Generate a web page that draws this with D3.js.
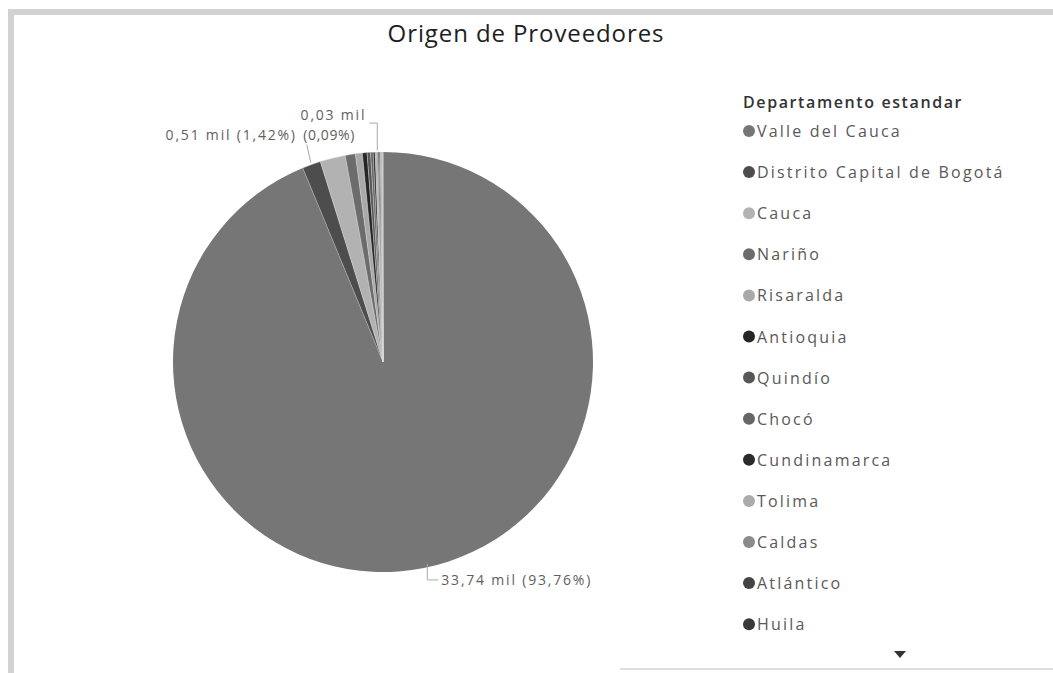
<!DOCTYPE html>
<html>
<head>
<meta charset="utf-8">
<script src="https://cdn.jsdelivr.net/npm/d3@7"></script>
<style>
  html, body { margin: 0; padding: 0; background: #fff; }
  svg { display: block; }
  text { font-family: "Open Sans", "Noto Sans", sans-serif; }
</style>
</head>
<body>
<svg id="chart" width="1053" height="673"></svg>
<script>
// ---- data (counts of providers) ----
const categories = [
  "Valle del Cauca", "Distrito Capital de Bogotá", "Cauca", "Nariño", "Risaralda",
  "Antioquia", "Quindío", "Chocó", "Cundinamarca", "Tolima", "Caldas", "Atlántico", "Huila",
  "Santander", "Bolívar", "Meta", "Boyacá", "Putumayo", "Magdalena"
];
const values = [
  33740, 510, 700, 280, 190,
  130, 95, 72, 55, 42, 33, 32, 30,
  25, 18, 14, 10, 6, 3
];
const colors = [
  "#767676", "#4d4d4d", "#b2b2b2", "#6c6c6c", "#a9a9a9",
  "#262626", "#575757", "#666666", "#2b2b2b", "#ababab", "#8a8a8a", "#444444", "#3a3a3a",
  "#9a9a9a", "#5e5e5e", "#c0c0c0", "#808080", "#505050", "#b8b8b8"
];
const legendShown = 13;            // items visible before the scroll arrow
const labeled = ["Valle del Cauca", "Distrito Capital de Bogotá", "Caldas"];
const titleText = "Origen de Proveedores";
const legendTitle = "Departamento estandar";

// ---- layout ----
const svg = d3.select("#chart");
const W = 1053, H = 673;
const cx = 383, cy = 362, R = 210;

// frame (scanned border)
svg.append("rect").attr("x", 8).attr("y", 9).attr("width", W - 8).attr("height", 6).attr("fill", "#d2d2d2");
svg.append("rect").attr("x", 8).attr("y", 9).attr("width", 6).attr("height", H - 9).attr("fill", "#d2d2d2");
svg.append("rect").attr("x", 620).attr("y", 668).attr("width", W - 620).attr("height", 2).attr("fill", "#dedede");

// title
svg.append("text").attr("x", 526).attr("y", 42).attr("text-anchor", "middle")
  .attr("font-size", 24).attr("font-weight", 500).attr("fill", "#1e1e1e")
  .attr("letter-spacing", 0.9)
  .text(titleText);

const total = d3.sum(values);
const data = categories.map((c, i) => ({ name: c, value: values[i], color: colors[i] }));

const pie = d3.pie().sort(null).value(d => d.value).startAngle(0).endAngle(2 * Math.PI);
const arcs = pie(data);
const arc = d3.arc().innerRadius(0).outerRadius(R);

const g = svg.append("g").attr("transform", `translate(${cx},${cy})`);
g.selectAll("path").data(arcs).join("path")
  .attr("d", arc)
  .attr("fill", d => d.data.color)
  .attr("stroke", "#d8d8d8")
  .attr("stroke-width", d => d.data.value > 1000 ? 0 : 0.4);

// labels
const fmtNum = v => (v / 1000).toFixed(2).replace(".", ",") + " mil";
const fmtPct = v => "(" + (100 * v / total).toFixed(2).replace(".", ",") + "%)";
const pt = (a, r) => [Math.sin(a) * r, -Math.cos(a) * r];
const lab = svg.append("g").attr("transform", `translate(${cx},${cy})`)
  .attr("font-size", 14).attr("fill", "#606060").attr("letter-spacing", 1.8);
const lineStyle = sel => sel.attr("fill", "none").attr("stroke", "#a8a8a8").attr("stroke-width", 1);

arcs.filter(d => labeled.includes(d.data.name)).forEach(d => {
  const mid = (d.startAngle + d.endAngle) / 2;
  const p0 = pt(mid, R + 2);
  if (d.data.name === "Valle del Cauca") {
    const p1 = [p0[0] + 3, p0[1] + 10];
    const p2 = [p1[0] + 11, p1[1]];
    lab.append("path").attr("d", d3.line()([[p1[0], p0[1] - 6], p1, p2])).call(lineStyle);
    lab.append("text").attr("x", p2[0] + 3).attr("y", p2[1] + 5)
      .text(fmtNum(d.data.value) + " " + fmtPct(d.data.value));
  } else if (d.data.name === "Distrito Capital de Bogotá") {
    const p1 = [p0[0] - 4, p0[1] - 18];
    lab.append("path").attr("d", d3.line()([p0, p1])).call(lineStyle);
    lab.append("text").attr("x", p1[0] - 10).attr("y", p1[1] - 5).attr("text-anchor", "end")
      .text(fmtNum(d.data.value) + " " + fmtPct(d.data.value));
  } else {
    const p1 = [p0[0], p0[1] - 27];
    const p2 = [p1[0] - 8, p1[1]];
    lab.append("path").attr("d", d3.line()([p0, p1, p2])).call(lineStyle);
    lab.append("text").attr("x", p2[0] - 3).attr("y", p2[1] - 3).attr("text-anchor", "end")
      .text(fmtNum(d.data.value));
    lab.append("text").attr("x", p2[0] - 66).attr("y", p2[1] + 17).attr("text-anchor", "start")
      .attr("letter-spacing", 0.6)
      .text(fmtPct(d.data.value));
  }
});

// legend
const lx = 743, ly = 108, step = 41.1;
svg.append("text").attr("x", lx).attr("y", ly).attr("font-size", 16).attr("font-weight", 600)
  .attr("fill", "#333").attr("letter-spacing", 1.6).text(legendTitle);
const leg = svg.append("g");
const items = data.slice(0, legendShown);
const li = leg.selectAll("g").data(items).join("g")
  .attr("transform", (d, i) => `translate(${lx}, ${ly + 23 + i * step})`);
li.append("circle").attr("cx", 6).attr("cy", 0).attr("r", 6).attr("fill", d => d.color);
li.append("text").attr("x", 14).attr("y", 6).attr("font-size", 16).attr("fill", "#595959")
  .attr("letter-spacing", 2.2).text(d => d.name);

// scroll arrow
svg.append("path").attr("d", d3.line()([[894, 651], [906, 651], [900, 658]])).attr("fill", "#333");
</script>
</body>
</html>
